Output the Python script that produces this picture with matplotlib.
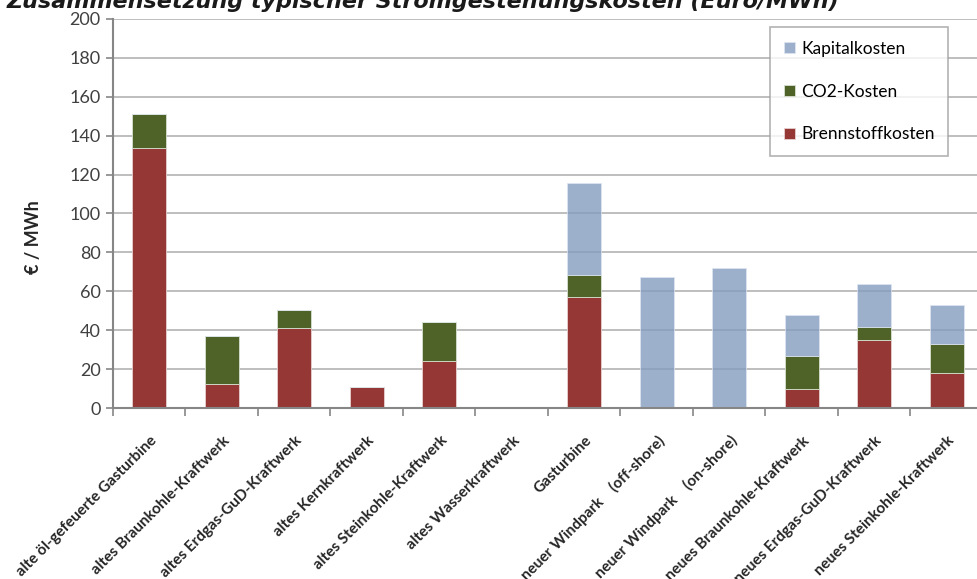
import matplotlib
matplotlib.use("Agg")
import matplotlib.pyplot as plt
import numpy as np

plt.rcParams['font.family'] = ['Lato', 'DejaVu Sans']

categories = [
    "alte öl-gefeuerte Gasturbine",
    "altes Braunkohle-Kraftwerk",
    "altes Erdgas-GuD-Kraftwerk",
    "altes Kernkraftwerk",
    "altes Steinkohle-Kraftwerk",
    "altes Wasserkraftwerk",
    "Gasturbine",
    "neuer Windpark    (off-shore)",
    "neuer Windpark    (on-shore)",
    "neues Braunkohle-Kraftwerk",
    "neues Erdgas-GuD-Kraftwerk",
    "neues Steinkohle-Kraftwerk",
]
brennstoff = [133.5, 12.5, 41.3, 11.0, 24.0, 0, 57.2, 0, 0, 9.6, 34.8, 18.0]
co2 = [17.8, 24.4, 9.1, 0, 20.0, 0, 11.3, 0, 0, 17.3, 7.0, 15.1]
kapital = [0, 0, 0, 0, 0, 0, 47.0, 67.5, 71.8, 20.7, 21.8, 20.0]

title = "Zusammensetzung typischer Stromgestehungskosten (Euro/MWh)"

fig = plt.figure(figsize=(9.78, 5.79), dpi=100)
ax = fig.add_axes([0.1155, 0.2953, 0.8896, 0.672])

x = np.arange(len(categories))
w = 0.465
b1 = np.array(brennstoff)
b2 = b1 + np.array(co2)
ax.bar(x, brennstoff, w, color='#953735', edgecolor='#e8d0d0', linewidth=0.6,
       label='Brennstoffkosten', zorder=2)
ax.bar(x, co2, w, bottom=b1, color='#4F6228', edgecolor='#d8e0d0', linewidth=0.6,
       label='CO2-Kosten', zorder=2)
ax.bar(x, kapital, w, bottom=b2, color='#859CBE', alpha=0.8, edgecolor='#dde6f2',
       linewidth=0.6, label='Kapitalkosten', zorder=2)

ax.set_xlim(-0.5, len(categories) - 0.5)
ax.set_ylim(0, 200)
ax.set_yticks(np.arange(0, 201, 20))
ax.yaxis.grid(True, color='#BEBEBE', linewidth=1.4, zorder=0)
ax.set_axisbelow(True)

for s in ['top', 'right']:
    ax.spines[s].set_visible(False)
for s in ['left', 'bottom']:
    ax.spines[s].set_color('#868686')
    ax.spines[s].set_linewidth(1.5)

ax.tick_params(axis='y', labelsize=13, colors='#868686', labelcolor='#404040',
               length=5, width=1.2, pad=4)
ax.set_xticks(np.arange(len(categories) + 1) - 0.5)
ax.set_xticklabels([])
ax.tick_params(axis='x', length=6, width=1.2, colors='#868686')

for i, c in enumerate(categories):
    ax.annotate(c, xy=(i, 0), xycoords=('data', 'axes fraction'),
                xytext=(4, -22), textcoords='offset points',
                rotation=45, rotation_mode='anchor', ha='right', va='center',
                fontsize=11, fontweight='bold', color='#262626')

ax.set_ylabel("€ / MWh", fontsize=13, fontweight='bold', color='#262626')
ax.yaxis.set_label_coords(-0.081, 0.44)

handles, labels = ax.get_legend_handles_labels()
leg = ax.legend(handles[::-1], labels[::-1], loc='upper left',
                bbox_to_anchor=(0.755, 0.98), frameon=True, fancybox=False,
                edgecolor='#A0A0A0', fontsize=12.5, labelspacing=1.55,
                handlelength=0.65, handleheight=0.65, handletextpad=0.35,
                borderpad=0.8, borderaxespad=0)
leg.get_frame().set_linewidth(1.2)

fig.text(0.007, 0.986, title, fontsize=16, fontweight='bold', fontstyle='italic',
         va='baseline', ha='left', color='#1a1a1a', family=['DejaVu Sans'])

fig.savefig("out.png", dpi=100)
